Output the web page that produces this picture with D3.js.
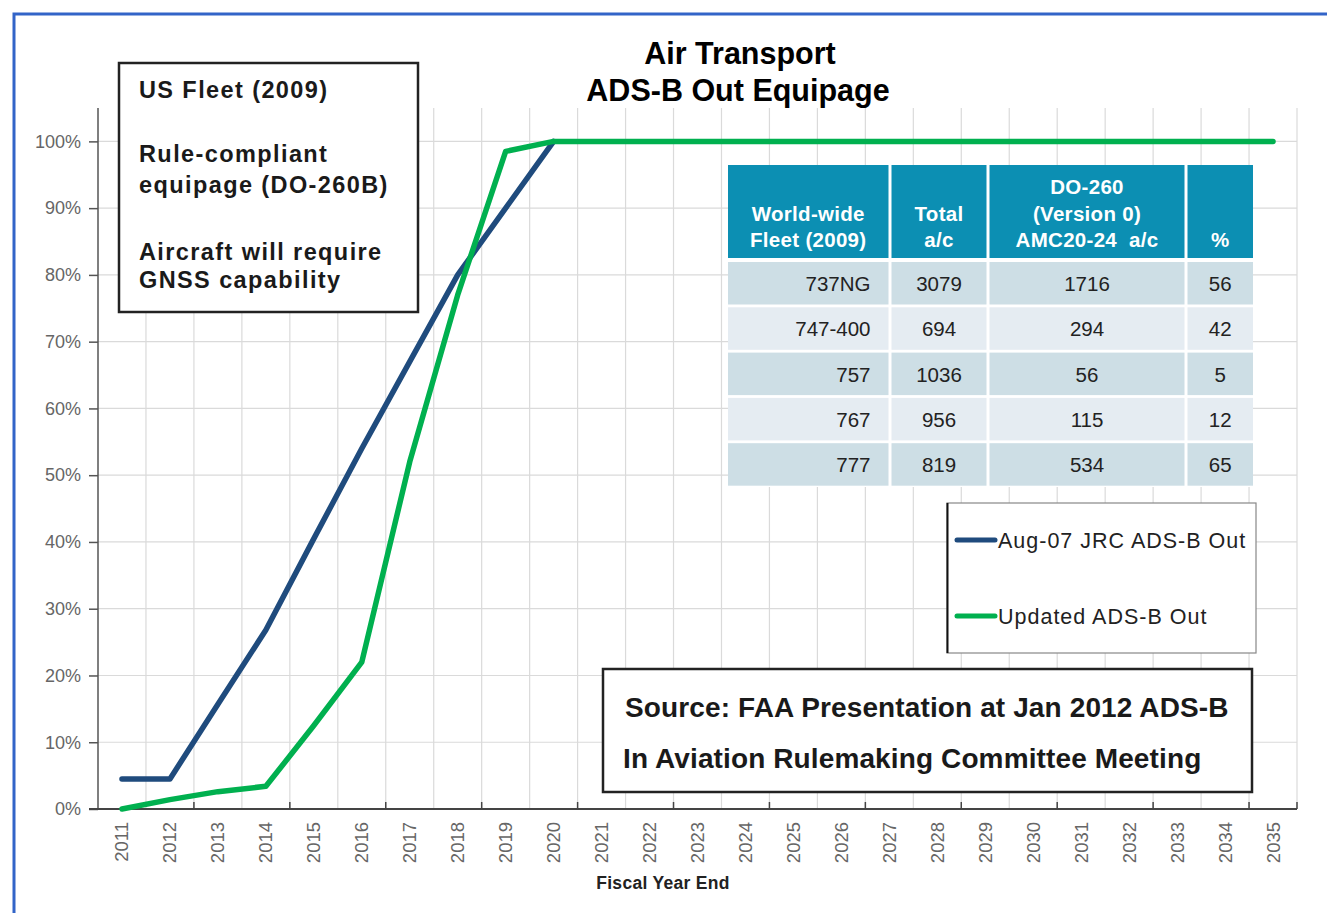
<!DOCTYPE html>
<html>
<head>
<meta charset="utf-8">
<script src="https://cdn.jsdelivr.net/npm/d3@7"></script>
<style>
  body { margin: 0; background: #fff; }
  svg { display: block; font-family: "Liberation Sans", Arial, sans-serif; }
</style>
</head>
<body>
<div id="chart"></div>
<script>
// years on the x axis
var years = ["2011","2012","2013","2014","2015","2016","2017","2018","2019","2020",
  "2021","2022","2023","2024","2025","2026","2027","2028","2029","2030",
  "2031","2032","2033","2034","2035"];

// share of fleet equipped (fraction)
var jrcYears = ["2011","2012","2013","2014","2015","2016","2017","2018","2019","2020"];
var jrcValues = [0.045, 0.045, 0.157, 0.268, 0.405, 0.54, 0.67, 0.80, 0.90, 1.00];

var updYears = years;
var updValues = [0.0, 0.014, 0.026, 0.034, 0.125, 0.22, 0.52, 0.77, 0.985, 1.0,
  1.0, 1.0, 1.0, 1.0, 1.0, 1.0, 1.0, 1.0, 1.0, 1.0,
  1.0, 1.0, 1.0, 1.0, 1.0];

var yTicks = [0, 0.1, 0.2, 0.3, 0.4, 0.5, 0.6, 0.7, 0.8, 0.9, 1.0];

// world-wide fleet table
var fleetTypes = ["737NG", "747-400", "757", "767", "777"];
var totalAc = [3079, 694, 1036, 956, 819];
var do260Ac = [1716, 294, 56, 115, 534];
var do260Pct = [56, 42, 5, 12, 65];
var tableHeaders = [["World-wide", "Fleet (2009)"], ["Total", "a/c"],
  ["DO-260", "(Version 0)", "AMC20-24  a/c"], ["%"]];

var seriesNames = ["Aug-07 JRC ADS-B Out", "Updated ADS-B Out"];
var seriesColors = ["#1f4b7d", "#00b04f"];

var W = 1327, H = 913;
var plot = {left: 98, right: 1297, top: 108, bottom: 809};

var svg = d3.select("#chart").append("svg")
  .attr("width", W)
  .attr("height", H);

// outer blue frame
svg.append("path")
  .attr("d", "M14," + H + "V14H" + W)
  .attr("fill", "none")
  .attr("stroke", "#3264c8")
  .attr("stroke-width", 3);

var x = d3.scaleBand().domain(years).range([plot.left, plot.right]).padding(0);
var y = d3.scaleLinear().domain([0, 1.05]).range([plot.bottom, plot.top]);
var cx = function(d) { return x(d) + x.bandwidth() / 2; };

// grid lines
var grid = svg.append("g");
grid.selectAll(".hg")
  .data(yTicks.slice(1))
  .enter().append("line")
  .attr("x1", plot.left).attr("x2", plot.right)
  .attr("y1", function(d) { return y(d); })
  .attr("y2", function(d) { return y(d); })
  .attr("stroke", "#dadada")
  .attr("stroke-width", 1.2);

grid.selectAll(".vg")
  .data(years)
  .enter().append("line")
  .attr("x1", function(d) { return x(d) + x.bandwidth(); })
  .attr("x2", function(d) { return x(d) + x.bandwidth(); })
  .attr("y1", plot.top).attr("y2", plot.bottom)
  .attr("stroke", "#dadada")
  .attr("stroke-width", 1.2);

// y axis
var yAxis = svg.append("g")
  .attr("transform", "translate(" + plot.left + ",0)")
  .call(d3.axisLeft(y).tickValues(yTicks).tickFormat(d3.format(".0%")).tickSize(9).tickPadding(8));
yAxis.select(".domain").attr("d", "M0," + plot.top + "V" + plot.bottom).attr("stroke", "#555").attr("stroke-width", 1.5);
yAxis.selectAll(".tick line").attr("stroke", "#555").attr("stroke-width", 1.5);
yAxis.selectAll(".tick text")
  .attr("fill", "#666")
  .style("font-size", "18px")
  .style("font-family", "'Liberation Sans', Arial, sans-serif");

// x axis (ticks point up into the plot, every other boundary)
var xAxis = svg.append("g")
  .attr("transform", "translate(0," + plot.bottom + ")");
xAxis.append("line")
  .attr("x1", plot.left - 9).attr("x2", plot.right)
  .attr("stroke", "#444").attr("stroke-width", 2);
xAxis.selectAll(".xt")
  .data(years.filter(function(d, i) { return i % 2 == 1 || i == years.length - 1; }))
  .enter().append("line")
  .attr("x1", function(d) { return x(d) + x.bandwidth(); })
  .attr("x2", function(d) { return x(d) + x.bandwidth(); })
  .attr("y1", -7).attr("y2", 0)
  .attr("stroke", "#444").attr("stroke-width", 1.5);
xAxis.selectAll(".xl")
  .data(years)
  .enter().append("text")
  .attr("transform", function(d) { return "translate(" + cx(d) + ",13) rotate(-90)"; })
  .attr("text-anchor", "end")
  .attr("dy", "0.35em")
  .attr("fill", "#666")
  .style("font-size", "18.5px")
  .text(function(d) { return d; });

svg.append("text")
  .attr("x", 663).attr("y", 889)
  .attr("text-anchor", "middle")
  .attr("fill", "#222")
  .style("font-size", "17.5px")
  .style("font-weight", "bold")
  .style("letter-spacing", "0.3px")
  .text("Fiscal Year End");

// title
svg.append("text")
  .attr("x", 740).attr("y", 64)
  .attr("text-anchor", "middle")
  .style("font-size", "30.5px").style("font-weight", "bold")
  .text("Air Transport");
svg.append("text")
  .attr("x", 738).attr("y", 101)
  .attr("text-anchor", "middle")
  .style("font-size", "30.5px").style("font-weight", "bold")
  .text("ADS-B Out Equipage");

// lines
var line = d3.line()
  .x(function(d) { return cx(d[0]); })
  .y(function(d) { return y(d[1]); });

var seriesData = [d3.zip(jrcYears, jrcValues), d3.zip(updYears, updValues)];
svg.selectAll(".series")
  .data(seriesData)
  .enter().append("path")
  .attr("d", line)
  .attr("fill", "none")
  .attr("stroke", function(d, i) { return seriesColors[i]; })
  .attr("stroke-width", 5.5)
  .attr("stroke-linecap", "round")
  .attr("stroke-linejoin", "round");

// top-left note box
svg.append("rect")
  .attr("x", 119).attr("y", 63).attr("width", 299).attr("height", 249)
  .attr("fill", "#fff").attr("stroke", "#222").attr("stroke-width", 2.5);
var notes = [["US Fleet (2009)", 98], ["Rule-compliant", 162], ["equipage (DO-260B)", 193],
  ["Aircraft will require", 260], ["GNSS capability", 288]];
svg.selectAll(".note")
  .data(notes)
  .enter().append("text")
  .attr("x", 139)
  .attr("y", function(d) { return d[1]; })
  .attr("fill", "#1a1a1a")
  .style("font-size", "23.5px").style("font-weight", "bold")
  .style("letter-spacing", "1.4px")
  .text(function(d) { return d[0]; });

// table
var colEdges = [728, 890, 988, 1186, 1253];
var gap = 3;
var tbl = svg.append("g");
tbl.append("rect")
  .attr("x", colEdges[0]).attr("y", 165)
  .attr("width", colEdges[4] - colEdges[0]).attr("height", 322)
  .attr("fill", "#fff");

tableHeaders.forEach(function(lines, c) {
  var x0 = colEdges[c] + (c > 0 ? gap / 2 : 0);
  var x1 = colEdges[c + 1] - (c < 3 ? gap / 2 : 0);
  tbl.append("rect")
    .attr("x", x0).attr("y", 165).attr("width", x1 - x0).attr("height", 93)
    .attr("fill", "#0c8fb3");
  lines.forEach(function(t, k) {
    tbl.append("text")
      .attr("x", (x0 + x1) / 2)
      .attr("y", 247 - (lines.length - 1 - k) * 26.5)
      .attr("text-anchor", "middle")
      .attr("fill", "#fff")
      .style("font-size", "20.5px").style("font-weight", "bold")
      .style("letter-spacing", "0.3px")
      .style("white-space", "pre")
      .text(t);
  });
});

var rows = d3.zip(fleetTypes, totalAc, do260Ac, do260Pct);
rows.forEach(function(r, i) {
  var top = 262 + i * 45.3;
  for (var c = 0; c < 4; c++) {
    var x0 = colEdges[c] + (c > 0 ? gap / 2 : 0);
    var x1 = colEdges[c + 1] - (c < 3 ? gap / 2 : 0);
    tbl.append("rect")
      .attr("x", x0).attr("y", top).attr("width", x1 - x0).attr("height", 42.5)
      .attr("fill", i % 2 == 0 ? "#cddee5" : "#e5ecf2");
    tbl.append("text")
      .attr("x", c == 0 ? x1 - 18 : (x0 + x1) / 2)
      .attr("y", top + 29)
      .attr("text-anchor", c == 0 ? "end" : "middle")
      .attr("fill", "#222")
      .style("font-size", "20.5px")
      .text(r[c]);
  }
});

// legend
var lg = svg.append("g");
lg.append("rect")
  .attr("x", 947).attr("y", 503).attr("width", 309).attr("height", 150)
  .attr("fill", "#fff").attr("stroke", "#888").attr("stroke-width", 1.2);
lg.append("line")
  .attr("x1", 947.5).attr("x2", 947.5).attr("y1", 503).attr("y2", 653)
  .attr("stroke", "#111").attr("stroke-width", 2);
seriesNames.forEach(function(name, i) {
  var ly = 540 + i * 76;
  lg.append("line")
    .attr("x1", 957).attr("x2", 995).attr("y1", ly).attr("y2", ly)
    .attr("stroke", seriesColors[i]).attr("stroke-width", 5)
    .attr("stroke-linecap", "round");
  lg.append("text")
    .attr("x", 998).attr("y", ly + 8)
    .attr("fill", "#222")
    .style("font-size", "21.5px")
    .style("letter-spacing", "1px")
    .text(name);
});

// source box
svg.append("rect")
  .attr("x", 603).attr("y", 669).attr("width", 649).attr("height", 123)
  .attr("fill", "#fff").attr("stroke", "#222").attr("stroke-width", 2.5);
svg.append("text")
  .attr("x", 625).attr("y", 717)
  .attr("fill", "#1a1a1a")
  .style("font-size", "28px").style("font-weight", "bold")
  .style("letter-spacing", "0.12px")
  .text("Source: FAA Presentation at Jan 2012 ADS-B");
svg.append("text")
  .attr("x", 623).attr("y", 768)
  .attr("fill", "#1a1a1a")
  .style("font-size", "28px").style("font-weight", "bold")
  .style("letter-spacing", "0.12px")
  .text("In Aviation Rulemaking Committee Meeting");
</script>
</body>
</html>
